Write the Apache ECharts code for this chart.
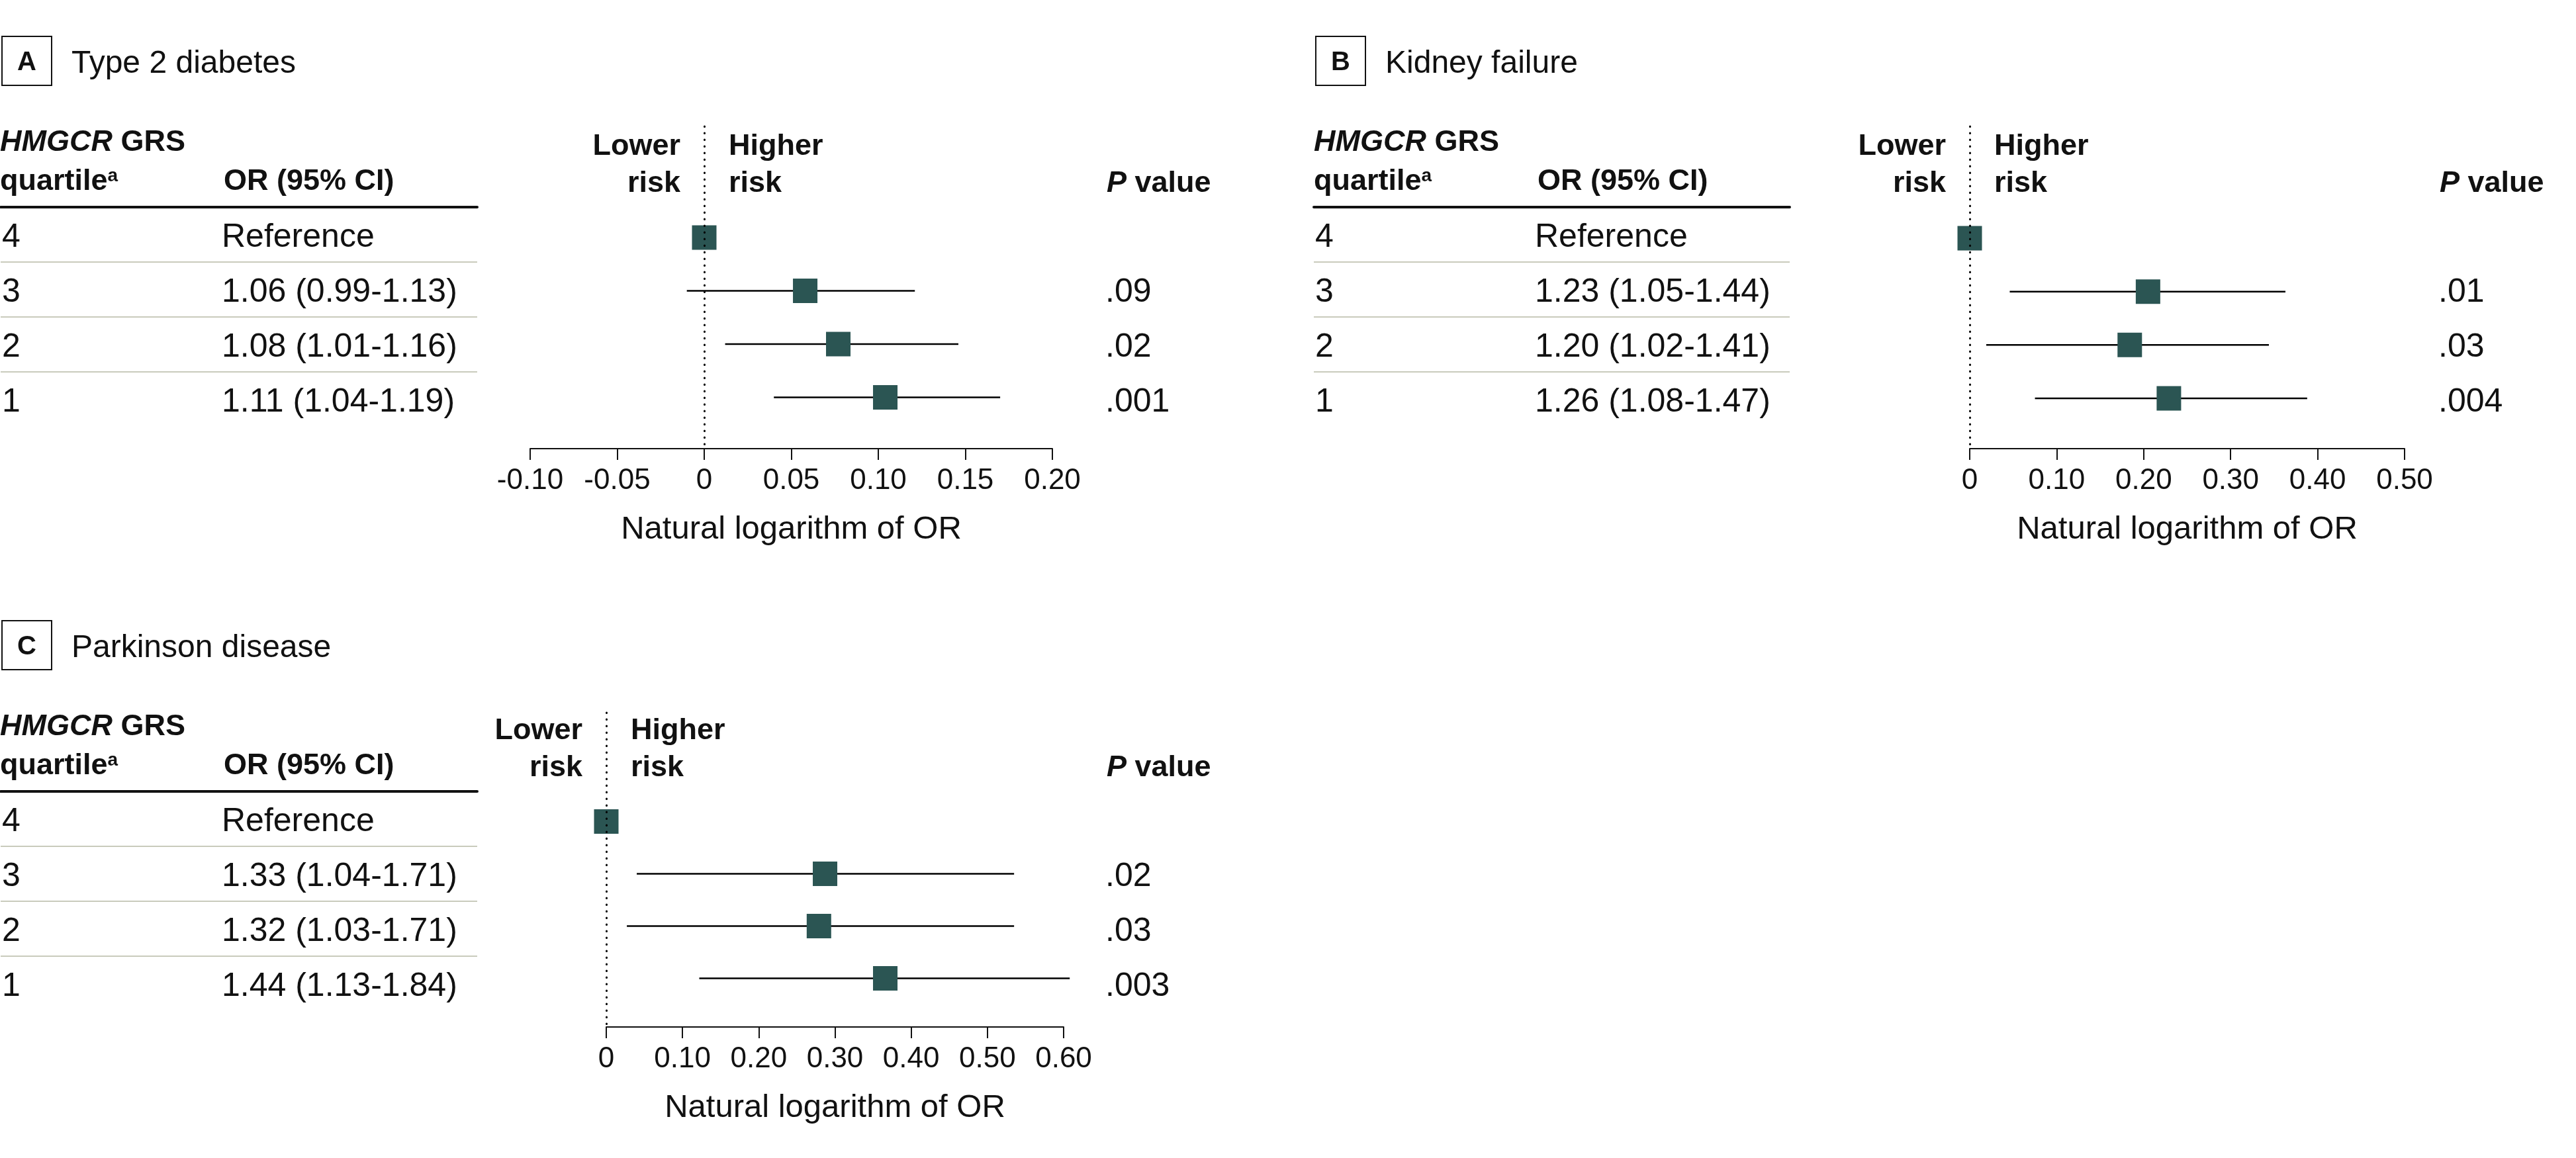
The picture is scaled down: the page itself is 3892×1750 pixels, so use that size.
<!DOCTYPE html>
<html>
<head>
<meta charset="utf-8">
<script src="https://cdn.jsdelivr.net/npm/echarts@6/dist/echarts.min.js"></script>
<style>
  html, body { margin: 0; padding: 0; background: #fff; }
  #main { width: 3892px; height: 1750px; }
</style>
</head>
<body>
<div id="main"></div>
<script>
// rows, top to bottom
const quartiles = ['4', '3', '2', '1'];

// A  Type 2 diabetes
const orTextA = ['Reference', '1.06 (0.99-1.13)', '1.08 (1.01-1.16)', '1.11 (1.04-1.19)'];
const estA = [0, 0.058, 0.077, 0.104];
const lowA = [null, -0.010, 0.012, 0.040];
const highA = [null, 0.121, 0.146, 0.170];
const pA = ['', '.09', '.02', '.001'];
const ticksA = [-0.10, -0.05, 0, 0.05, 0.10, 0.15, 0.20];

// B  Kidney failure
const orTextB = ['Reference', '1.23 (1.05-1.44)', '1.20 (1.02-1.41)', '1.26 (1.08-1.47)'];
const estB = [0, 0.205, 0.184, 0.229];
const lowB = [null, 0.046, 0.019, 0.075];
const highB = [null, 0.363, 0.344, 0.388];
const pB = ['', '.01', '.03', '.004'];
const ticksB = [0, 0.10, 0.20, 0.30, 0.40, 0.50];

// C  Parkinson disease
const orTextC = ['Reference', '1.33 (1.04-1.71)', '1.32 (1.03-1.71)', '1.44 (1.13-1.84)'];
const estC = [0, 0.287, 0.279, 0.366];
const lowC = [null, 0.040, 0.027, 0.122];
const highC = [null, 0.535, 0.535, 0.608];
const pC = ['', '.02', '.03', '.003'];
const ticksC = [0, 0.10, 0.20, 0.30, 0.40, 0.50, 0.60];

const FONT = '"Liberation Sans", Arial, "DejaVu Sans", sans-serif';
const INK = '#111';
const TEAL = '#2b5553';

// page layout of the three panels
const panels = [
    {letter: 'A', title: 'Type 2 diabetes', or: orTextA, est: estA, low: lowA, high: highA, p: pA, ticks: ticksA,
     ox: 0, oy: 0, tableW: 721, pX: 1670, plotLeft: 801, plotW: 789, plotTop: 191, plotBottom: 678, yMin: -2.087, yMax: 3.963},
    {letter: 'B', title: 'Kidney failure', or: orTextB, est: estB, low: lowB, high: highB, p: pB, ticks: ticksB,
     ox: 1985, oy: 0, tableW: 719, pX: 3684, plotLeft: 2976, plotW: 657, plotTop: 191, plotBottom: 678, yMin: -2.094, yMax: 3.941},
    {letter: 'C', title: 'Parkinson disease', or: orTextC, est: estC, low: lowC, high: highC, p: pC, ticks: ticksC,
     ox: 0, oy: 883, tableW: 721, pX: 1670, plotLeft: 916, plotW: 691, plotTop: 1077, plotBottom: 1552, yMin: -2.082, yMax: 3.93}
];

let chart = echarts.init(document.getElementById('main'));

let grid = [], xAxis = [], yAxis = [], series = [];

panels.forEach(function(P, i) {
    // table grid
    grid.push({left: P.ox, top: P.oy + 313, width: P.tableW, height: 332});
    // forest plot grid
    grid.push({left: P.plotLeft, top: P.plotTop, width: P.plotW, height: P.plotBottom - P.plotTop});

    xAxis.push({
        gridIndex: 2 * i, type: 'value', position: 'top', min: 0, max: 1,
        axisLine: {show: true, onZero: false, lineStyle: {color: INK, width: 4}},
        axisTick: {show: false}, axisLabel: {show: false}, splitLine: {show: false}
    });
    let step = +(P.ticks[1] - P.ticks[0]).toFixed(4);
    xAxis.push({
        gridIndex: 2 * i + 1, type: 'value', position: 'bottom',
        min: P.ticks[0], max: P.ticks[P.ticks.length - 1], interval: step,
        axisLine: {show: true, onZero: false, lineStyle: {color: INK, width: 2}},
        axisTick: {show: true, length: 17, lineStyle: {color: INK, width: 2}},
        axisLabel: {
            fontFamily: FONT, fontSize: 44, color: INK, margin: 27,
            formatter: function(v) { return Math.abs(v) < 1e-9 ? '0' : v.toFixed(2); }
        },
        splitLine: {show: false},
        name: 'Natural logarithm of OR', nameLocation: 'middle', nameGap: 98,
        nameTextStyle: {fontFamily: FONT, fontSize: 49, color: INK}
    });

    yAxis.push({
        gridIndex: 2 * i, type: 'category', data: quartiles, inverse: true, position: 'left',
        axisLine: {show: false}, axisTick: {show: false},
        splitLine: {show: true, showMinLine: false, showMaxLine: false, interval: 0,
            lineStyle: {color: '#c9cbbc', width: 2}},
        axisLabel: {
            inside: true, align: 'left', margin: 2, interval: 0,
            formatter: function(v, idx) { return '{q|' + v + '}{v|' + P.or[idx] + '}'; },
            rich: {
                q: {fontFamily: FONT, fontSize: 50, color: INK, width: 332, padding: [9, 0, 0, 0]},
                v: {fontFamily: FONT, fontSize: 50, color: INK, padding: [9, 0, 0, 0]}
            }
        }
    });
    yAxis.push({
        gridIndex: 2 * i, type: 'category', data: quartiles, inverse: true, position: 'right',
        axisLine: {show: false}, axisTick: {show: false}, splitLine: {show: false},
        axisLabel: {
            align: 'left', interval: 0, margin: P.pX - (P.ox + P.tableW),
            formatter: function(v, idx) { return P.p[idx] ? '{p|' + P.p[idx] + '}' : ''; },
            rich: {
                p: {fontFamily: FONT, fontSize: 50, color: INK, padding: [9, 0, 0, 0]}
            }
        }
    });
    yAxis.push({
        gridIndex: 2 * i + 1, type: 'value', inverse: true, min: P.yMin, max: P.yMax, show: false
    });

    let ci = [];
    P.low.forEach(function(lo, r) {
        if (lo !== null) ci.push([lo, P.high[r], r]);
    });
    series.push({
        type: 'custom', xAxisIndex: 2 * i + 1, yAxisIndex: 3 * i + 2, silent: true, z: 2,
        data: ci, encode: {x: [0, 1], y: 2}, clip: false,
        renderItem: function(params, api) {
            let a = api.coord([api.value(0), api.value(2)]);
            let b = api.coord([api.value(1), api.value(2)]);
            return {type: 'line', shape: {x1: a[0], y1: a[1], x2: b[0], y2: b[1]},
                style: {stroke: '#000', lineWidth: 2.5}};
        }
    });
    series.push({
        type: 'scatter', xAxisIndex: 2 * i + 1, yAxisIndex: 3 * i + 2, silent: true, z: 3,
        symbol: 'rect', symbolSize: 37,
        itemStyle: {color: TEAL, opacity: 1},
        data: P.est.map(function(v, r) { return [v, r]; })
    });
    series.push({
        type: 'line', xAxisIndex: 2 * i + 1, yAxisIndex: 3 * i + 2, silent: true, z: 6,
        data: [],
        markLine: {
            silent: true, symbol: 'none', label: {show: false}, z: 6,
            lineStyle: {color: '#000', width: 3, type: [0.5, 9.5], cap: 'round'},
            data: [{xAxis: 0}]
        }
    });
});

chart.setOption({
    backgroundColor: '#fff',
    animation: false,
    grid: grid, xAxis: xAxis, yAxis: yAxis, series: series
});

function txt(x, y, text, opt) {
    let style = Object.assign({
        text: text, fill: INK, fontFamily: FONT, fontSize: 50,
        align: 'left', textAlign: 'left', verticalAlign: 'middle', textVerticalAlign: 'middle'
    }, opt || {});
    return {type: 'text', x: x, y: y, silent: true, style: style};
}

let graphic = [];
panels.forEach(function(P, i) {
    let ox = P.ox, oy = P.oy;
    let zeroX = chart.convertToPixel({xAxisIndex: 2 * i + 1}, 0);
    graphic.push({type: 'rect', silent: true, shape: {x: ox + 3, y: oy + 55, width: 75, height: 74},
        style: {fill: 'none', stroke: INK, lineWidth: 2}});
    graphic.push(txt(ox + 40.5, oy + 95, P.letter, {fontSize: 40, fontWeight: 'bold', align: 'center', textAlign: 'center'}));
    graphic.push(txt(ox + 108, oy + 97, P.title, {fontSize: 48}));
    graphic.push(txt(ox, oy + 216, '{i|HMGCR}{b| GRS}', {
        rich: {
            i: {fontFamily: FONT, fontSize: 45, fontWeight: 'bold', fontStyle: 'italic', fill: INK},
            b: {fontFamily: FONT, fontSize: 45, fontWeight: 'bold', fill: INK}
        }
    }));
    graphic.push(txt(ox, oy + 275, '{b|quartile}{s|a}', {
        rich: {
            b: {fontFamily: FONT, fontSize: 45, fontWeight: 'bold', fill: INK},
            s: {fontFamily: FONT, fontSize: 28, fontWeight: 'bold', fill: INK, verticalAlign: 'top'}
        }
    }));
    graphic.push(txt(ox + 338, oy + 275, 'OR (95% CI)', {fontSize: 45, fontWeight: 'bold'}));
    graphic.push(txt(P.pX + 2, oy + 278, '{i|P}{b| value}', {
        rich: {
            i: {fontFamily: FONT, fontSize: 45, fontWeight: 'bold', fontStyle: 'italic', fill: INK},
            b: {fontFamily: FONT, fontSize: 45, fontWeight: 'bold', fill: INK}
        }
    }));
    graphic.push(txt(zeroX - 36, oy + 250, 'Lower\nrisk', {fontSize: 45, fontWeight: 'bold', lineHeight: 56,
        align: 'right', textAlign: 'right'}));
    graphic.push(txt(zeroX + 37, oy + 250, 'Higher\nrisk', {fontSize: 45, fontWeight: 'bold', lineHeight: 56}));
});

chart.setOption({graphic: {elements: graphic}});
</script>
</body>
</html>
